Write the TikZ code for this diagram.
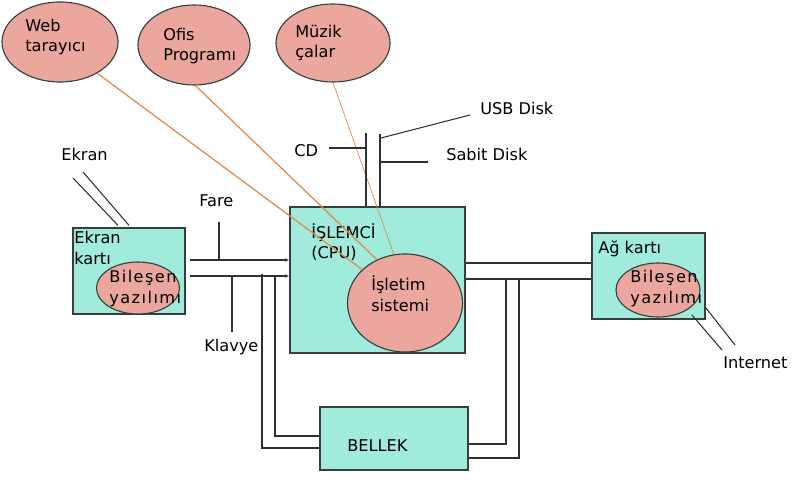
\documentclass[tikz,border=0pt]{standalone}
\usepackage{fontspec}
\setmainfont{DejaVu Sans}
\usetikzlibrary{arrows.meta,calc,shapes.geometric}
\definecolor{Aqua}{HTML}{A0EBDC}
\definecolor{Salmon}{HTML}{EBA79D}
\definecolor{Edge}{HTML}{34403E}
\definecolor{Wire}{HTML}{303030}
\definecolor{Orange}{HTML}{E58A4E}
\tikzset{
 unit/.style={draw=Edge, fill=Aqua, line width=0.9pt, inner sep=0pt},
 app/.style={ellipse, draw=Edge, fill=Salmon, line width=0.8pt, inner sep=0pt},
 txt/.style={anchor=base west, align=left, inner sep=0pt, font=\fontsize{11.5}{14.4}\selectfont},
 wide/.style={txt, font=\fontsize{11.5}{14.4}\selectfont\addfontfeature{LetterSpace=9}},
 wire/.style={draw=Wire, line width=0.75pt},
 bus/.style={wire, -{Latex[length=3pt,width=2.5pt]}},
 link/.style={draw=Orange, line width=0.9pt}
}
\begin{document}
\begin{tikzpicture}[x=0.025cm, y=-0.025cm]
\useasboundingbox (0,0) rectangle (796,485);

% applications on top
\node[app, minimum width=2.9cm, minimum height=2cm] (web) at (60,42) {};
\node[app, minimum width=2.8cm, minimum height=2cm] (ofis) at (194,45) {};
\node[app, minimum width=2.85cm, minimum height=1.95cm] (muzik) at (333,43) {};
\node[txt] (webt) at (25,52) {Web\\tarayıcı};
\node[txt] (ofist) at (163,61) {Ofis\\Programı};
\node[txt] (muzikt) at (295,58) {Müzik\\çalar};

% hardware units
\node[unit, minimum width=4.375cm, minimum height=3.65cm] (cpu) at (377.5,280) {};
\node[unit, minimum width=2.8cm, minimum height=2.15cm] (ekkart) at (129,271) {};
\node[unit, minimum width=2.825cm, minimum height=2.15cm] (agkart) at (648.5,276) {};
\node[unit, minimum width=3.7cm, minimum height=1.575cm] (bellek) at (394,438.5) {};

\node[app, minimum width=2.875cm, minimum height=2.45cm] (os) at (405,303) {};
\node[app, minimum width=2.075cm, minimum height=1.3cm] (ekbil) at (138,288) {};
\node[app, minimum width=2.1cm, minimum height=1.35cm] (agbil) at (658,290) {};

\node[txt] (cput) at (311,259) {İŞLEMCİ\\(CPU)};
\node[txt] (ost) at (371,311) {İşletim\\sistemi};
\node[txt] (ekkartt) at (74,264) {Ekran\\kartı};
\node[wide] (ekbilt) at (109,303) {Bileşen\\yazılımı};
\node[txt] (agkartt) at (598,253) {Ağ kartı};
\node[wide] (agbilt) at (630,303) {Bileşen\\yazılımı};
\node[txt] (bellekt) at (347,451) {BELLEK};

% outside devices
\node[txt] (ekran) at (61,161) {Ekran};
\node[txt] (fare) at (199,206) {Fare};
\node[txt] (klavye) at (204,351) {Klavye};
\node[txt] (cd) at (294,157) {CD};
\node[txt] (usb) at (480,115) {USB Disk};
\node[txt] (sabit) at (446,161) {Sabit Disk};
\node[txt] (inet) at (723,368) {Internet};

% programs talk to the OS
\draw[link] (web.-40) -- (os.142);
\draw[link] (ofis.-88) -- (os.123);
\draw[link, line width=0.5pt] (muzik.south) -- (os.103);

% input bus
\coordinate (busT) at (190,260);
\coordinate (busB) at (190,276);
\draw[bus] (busT) -- (busT -| cpu.west);
\draw[bus] (busB) -- (busB -| cpu.west);
\coordinate (fareEnd) at (219,222);
\draw[wire] (fareEnd) -- (fareEnd |- busT);
\coordinate (klvEnd) at (232,332);
\draw[wire] (klvEnd) -- (klvEnd |- busB);

% screen cable
\coordinate (ekrA) at (73,178);
\coordinate (ekrB) at (83,172);
\draw[wire] (ekrA) -- ([shift={(-11,-2)}]ekkart.north);
\draw[wire] (ekrB) -- ([shift={(0,-2)}]ekkart.north);

% disks
\coordinate (cdBus) at (366,133);
\coordinate (hdBus) at (380,134);
\draw[wire] (cdBus) -- (cdBus |- cpu.north);
\draw[wire] (hdBus) -- (hdBus |- cpu.north);
\coordinate (cdEnd) at (329,148);
\draw[wire] (cdEnd) -- (cdEnd -| cdBus);
\coordinate (usbEnd) at (470,115);
\draw[wire] ([shift={(1,4)}]hdBus) -- (usbEnd);
\coordinate (hddEnd) at (428,162);
\draw[wire] (hddEnd) -- (hddEnd -| hdBus);

% memory lines
\coordinate (memA) at (262,274);
\coordinate (memB) at (275,276);
\draw[wire] (memA) |- ([shift={(0,9.5)}]bellek.west);
\draw[wire] (memB) |- ([shift={(0,-2.5)}]bellek.west);
\coordinate (memC) at (506,279);
\coordinate (memD) at (519,279);
\draw[wire] (memC) |- ([shift={(0,5.5)}]bellek.east);
\draw[wire] (memD) |- ([shift={(0,19.5)}]bellek.east);

% network card
\draw[wire] ([shift={(0,-17)}]cpu.east) -- ([shift={(0,-17)}]cpu.east -| agkart.west);
\draw[wire] ([shift={(0,-1)}]cpu.east) -- ([shift={(0,-1)}]cpu.east -| agkart.west);
\coordinate (inetA) at (722,350);
\coordinate (inetB) at (735,345);
\draw[wire] ([shift={(-14,-5)}]agkart.south east) -- (inetA);
\draw[wire] ([shift={(0,-12)}]agkart.south east) -- (inetB);
\end{tikzpicture}
\end{document}
